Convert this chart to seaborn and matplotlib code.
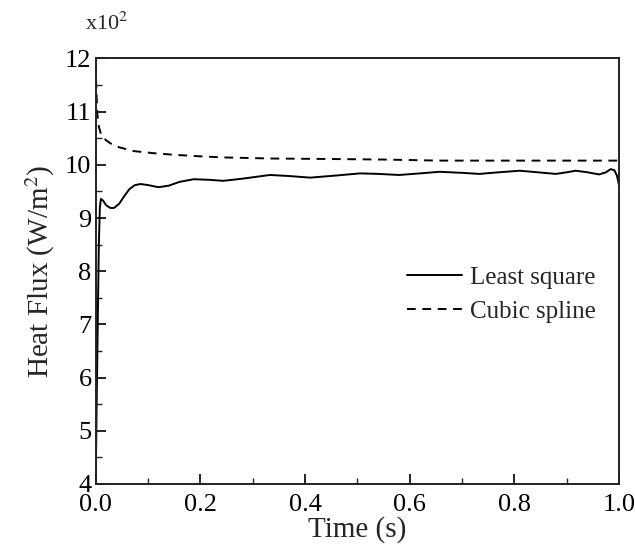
#!/usr/bin/env python3
"""Heat flux vs time: least square vs cubic spline reconstruction."""

import matplotlib
matplotlib.use("Agg")
import matplotlib.pyplot as plt
import seaborn as sns
import pandas as pd
from matplotlib.ticker import MultipleLocator

# values (heat flux in units of x10^2 W/m^2)
ls_time = [0.0, 0.002, 0.004, 0.006, 0.008, 0.010, 0.014, 0.020, 0.028, 0.035,
           0.045, 0.055, 0.065, 0.075, 0.086, 0.100, 0.120, 0.140, 0.160, 0.187,
           0.215, 0.244, 0.280, 0.333, 0.370, 0.410, 0.460, 0.505, 0.540, 0.580,
           0.620, 0.657, 0.700, 0.733, 0.770, 0.810, 0.845, 0.879, 0.900, 0.917,
           0.940, 0.962, 0.975, 0.984, 0.991, 0.996, 1.0]
ls_flux = [4.0, 5.6, 7.1, 8.5, 9.2, 9.36, 9.33, 9.24, 9.19, 9.19,
           9.27, 9.42, 9.55, 9.62, 9.64, 9.62, 9.58, 9.61, 9.68, 9.73,
           9.72, 9.70, 9.74, 9.81, 9.79, 9.76, 9.80, 9.84, 9.83, 9.81,
           9.84, 9.87, 9.85, 9.83, 9.86, 9.89, 9.86, 9.83, 9.86, 9.89,
           9.86, 9.82, 9.86, 9.92, 9.90, 9.80, 9.62]

cs_time = [0.0, 0.001, 0.003, 0.006, 0.010, 0.013, 0.020, 0.029, 0.045, 0.072,
           0.110, 0.149, 0.200, 0.244, 0.333, 0.450, 0.550, 0.657, 0.800, 0.900, 1.0]
cs_flux = [11.9, 11.5, 10.97, 10.72, 10.58, 10.53, 10.46, 10.40, 10.33, 10.26,
           10.22, 10.19, 10.16, 10.14, 10.12, 10.11, 10.10, 10.08, 10.08, 10.08, 10.08]

series_names = ["Least square", "Cubic spline"]

df = pd.concat([
    pd.DataFrame({"time": ls_time, "flux": ls_flux, "method": series_names[0]}),
    pd.DataFrame({"time": cs_time, "flux": cs_flux, "method": series_names[1]}),
])

sns.set_theme(style="ticks")
plt.rcParams["font.family"] = ["Liberation Serif", "DejaVu Serif"]
plt.rcParams["mathtext.fontset"] = "stix"

fig = plt.figure(figsize=(6.35, 5.56), dpi=100)
ax = fig.add_axes([0.1507, 0.1295, 0.8241, 0.7653])

sns.lineplot(data=df, x="time", y="flux", style="method",
             style_order=series_names,
             dashes={"Least square": "", "Cubic spline": (4.5, 3.4)},
             color="black", linewidth=1.4, ax=ax, sort=False,
             estimator=None)

ax.set_xlim(0.0, 1.0)
ax.set_ylim(4, 12)
ax.xaxis.set_major_locator(MultipleLocator(0.2))
ax.xaxis.set_minor_locator(MultipleLocator(0.1))
ax.yaxis.set_major_locator(MultipleLocator(1))
ax.yaxis.set_minor_locator(MultipleLocator(0.5))
ax.xaxis.set_major_formatter(plt.FormatStrFormatter("%.1f"))
ax.tick_params(which="major", direction="in", length=7, width=1.2,
               labelsize=19, colors="black", pad=3)
ax.tick_params(axis="x", which="major", pad=7)
ax.tick_params(which="minor", direction="in", length=4, width=1.0)
for sp in ax.spines.values():
    sp.set_linewidth(1.4)
    sp.set_color("#222222")

ax.set_xlabel("Time (s)", fontsize=21, labelpad=0)
ax.set_ylabel("Heat Flux (W/m$^2$)", fontsize=21, labelpad=6)
ax.text(-0.02, 1.055, "x10$^2$", transform=ax.transAxes, fontsize=16,
        ha="left", va="bottom")

leg = ax.legend(loc="center left", bbox_to_anchor=(0.595, 0.445), frameon=False,
                fontsize=18, handlelength=2.2, handletextpad=0.3,
                labelspacing=0.45, borderpad=0, borderaxespad=0)
for line in leg.get_lines():
    line.set_linewidth(1.4)

fig.savefig("out.png", dpi=100)
